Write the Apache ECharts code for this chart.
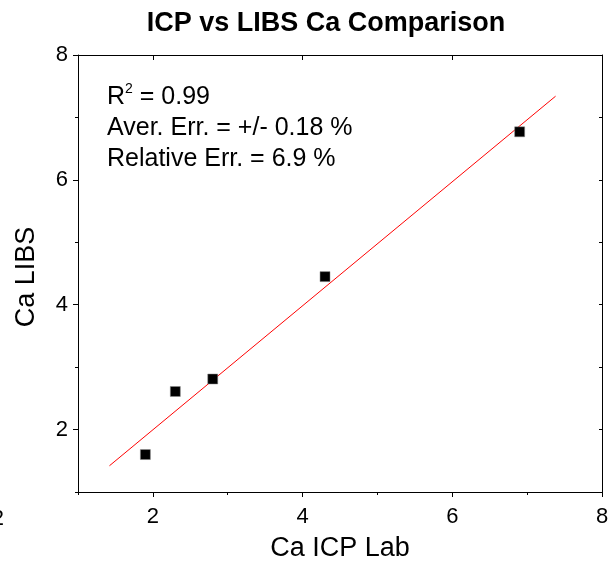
<!DOCTYPE html>
<html><head><meta charset="utf-8">
<script src="https://cdn.jsdelivr.net/npm/echarts@6/dist/echarts.min.js"></script>
<style>html,body{margin:0;padding:0;background:#fff}#c{width:614px;height:567px}</style>
</head><body><div id="c"></div>
<script>
const icpValues = [1.9, 2.3, 2.8, 4.3, 6.9];
const libsValues = [1.6, 2.61, 2.81, 4.45, 6.77];
const fitX = [1.42, 7.38];
const fitY = [1.42, 7.34];
const majorTicks = [2, 4, 6, 8];
const titleText = 'ICP vs LIBS Ca Comparison';
const xTitle = 'Ca ICP Lab';
const yTitle = 'Ca LIBS';
const statLines = ['R{sup|2} = 0.99', 'Aver. Err. = +/- 0.18 %', 'Relative Err. = 6.9 %'];

const FONT = 'Liberation Sans, Arial, sans-serif';
const chart = echarts.init(document.getElementById('c'), null, {renderer: 'canvas'});
const grid = {left: 78, right: 12, top: 55, bottom: 75};
const baseAxis = (extra) => Object.assign({
  type: 'value', min: 1, max: 8, interval: 1,
  splitLine: {show: false},
  axisLine: {show: true, onZero: false, lineStyle: {color: '#000', width: 1}},
}, extra);

chart.setOption({
  animation: false,
  grid: grid,
  title: {text: titleText, left: 321, top: 5, textAlign: 'center',
    textStyle: {fontFamily: FONT, fontWeight: 'bold', fontSize: 27, color: '#000'}},
  xAxis: [
    baseAxis({position: 'bottom',
      axisTick: {show: true, customValues: majorTicks, length: 5, lineStyle: {color: '#000'}},
      axisLabel: {show: true, customValues: majorTicks, color: '#000', fontFamily: FONT, fontSize: 22, margin: 14}}),
    baseAxis({position: 'bottom', axisLine: {show: false},
      axisTick: {show: true, length: 3, lineStyle: {color: '#000'}}, axisLabel: {show: false}}),
    baseAxis({position: 'top',
      axisTick: {show: true, inside: true, customValues: majorTicks, length: 5, lineStyle: {color: '#000'}},
      axisLabel: {show: false}})
  ],
  yAxis: [
    baseAxis({position: 'left',
      axisTick: {show: true, customValues: majorTicks, length: 5, lineStyle: {color: '#000'}},
      axisLabel: {show: true, customValues: majorTicks, color: '#000', fontFamily: FONT, fontSize: 22, margin: 10}}),
    baseAxis({position: 'left', axisLine: {show: false},
      axisTick: {show: true, length: 3, lineStyle: {color: '#000'}}, axisLabel: {show: false}}),
    baseAxis({position: 'right',
      axisTick: {show: true, inside: true, length: 3, lineStyle: {color: '#000'}},
      axisLabel: {show: false}})
  ],
  series: [
    {type: 'line', data: fitX.map((x, i) => [x, fitY[i]]), symbol: 'none',
      lineStyle: {color: '#ff0000', width: 1}, z: 2},
    {type: 'scatter', data: icpValues.map((x, i) => [x, libsValues[i]]), symbol: 'rect',
      symbolSize: 10, itemStyle: {color: '#000', opacity: 1, borderColor: '#888', borderWidth: 0.5}, z: 3}
  ],
  graphic: [
    {type: 'text', left: 107, top: 82, style: {
      text: statLines.join('\n'), fontFamily: FONT, fontSize: 25, lineHeight: 31, fill: '#000',
      rich: {sup: {fontSize: 14, verticalAlign: 'top', padding: [0, 0, 12, 0], fontFamily: FONT}}}},
    {type: 'text', x: 340, y: 549, style: {text: xTitle, fontFamily: FONT, fontSize: 27,
      fill: '#000', align: 'center', verticalAlign: 'middle'}},
    {type: 'text', x: 27, y: 277, rotation: Math.PI / 2, style: {text: yTitle, fontFamily: FONT,
      fontSize: 27, fill: '#000', align: 'center', verticalAlign: 'middle'}},
    {type: 'text', x: 4, y: 519, style: {text: '2', fontFamily: FONT, fontSize: 22,
      fill: '#000', align: 'right', verticalAlign: 'middle'}}
  ]
});
</script></body></html>
